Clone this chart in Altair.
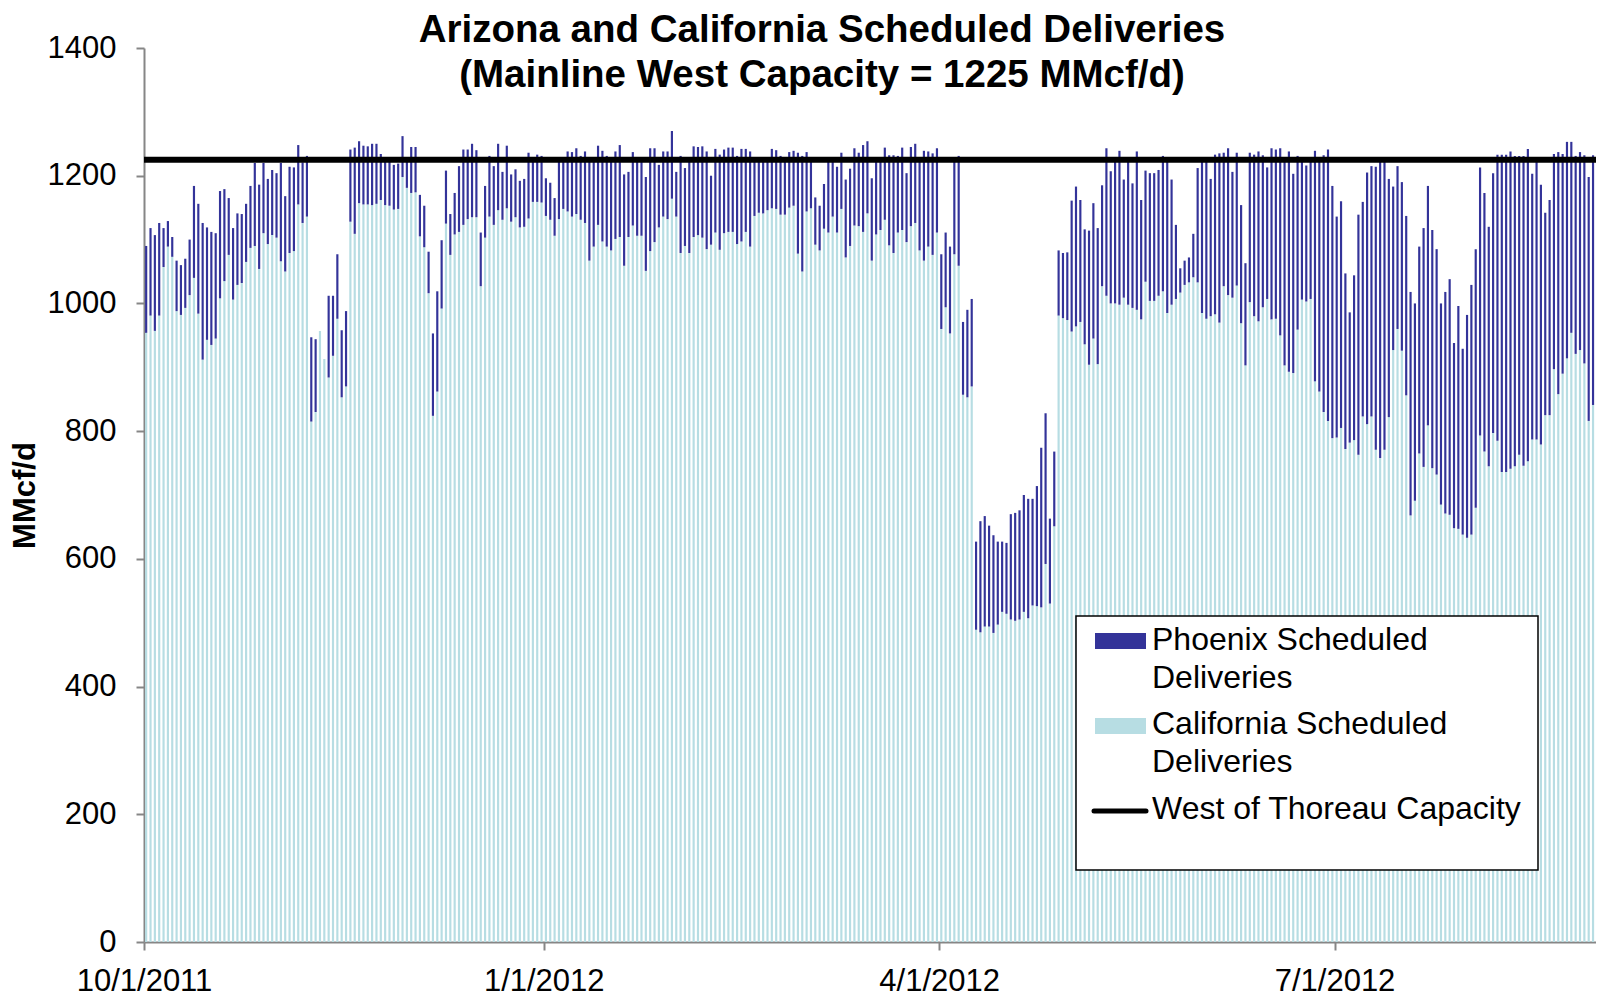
import altair as alt
import pandas as pd

# ---------------- data ----------------
start_date = "2011-10-01"

california = [
    954, 981, 957, 981, 1057, 1089, 1073, 988, 982, 993,
    1013, 1040, 984, 912, 943, 935, 945, 1008, 1035, 1076,
    1006, 1029, 1032, 1065, 1087, 1090, 1054, 1110, 1093, 1107,
    1103, 1066, 1050, 1079, 1082, 1155, 1126, 1136, 815, 830,
    957, 913, 884, 918, 976, 853, 870, 1128, 1109, 1157,
    1155, 1155, 1154, 1156, 1162, 1154, 1153, 1147, 1148, 1198,
    1181, 1173, 1174, 1105, 1088, 1016, 824, 862, 992, 1125,
    1076, 1108, 1112, 1123, 1132, 1135, 1135, 1027, 1103, 1136,
    1123, 1146, 1131, 1149, 1128, 1135, 1119, 1120, 1133, 1159,
    1159, 1158, 1137, 1131, 1106, 1132, 1148, 1144, 1136, 1140,
    1131, 1126, 1067, 1089, 1123, 1097, 1089, 1083, 1101, 1104,
    1059, 1104, 1122, 1106, 1106, 1051, 1082, 1096, 1119, 1136,
    1132, 1164, 1136, 1079, 1090, 1079, 1104, 1107, 1103, 1085,
    1092, 1111, 1084, 1110, 1112, 1112, 1093, 1097, 1112, 1089,
    1137, 1142, 1141, 1146, 1149, 1148, 1139, 1139, 1150, 1153,
    1078, 1050, 1144, 1149, 1092, 1083, 1117, 1111, 1136, 1111,
    1148, 1072, 1090, 1122, 1121, 1112, 1141, 1067, 1108, 1115,
    1131, 1091, 1079, 1111, 1115, 1096, 1121, 1126, 1083, 1067,
    1089, 1076, 1111, 960, 994, 953, 1077, 1059, 857, 853,
    870, 489, 485, 494, 494, 484, 497, 517, 514, 505,
    503, 505, 517, 507, 527, 526, 524, 592, 530, 651,
    981, 977, 974, 956, 964, 971, 936, 904, 945, 905,
    1027, 1012, 1000, 1000, 998, 1009, 998, 993, 990, 975,
    1034, 1004, 1004, 1012, 1019, 985, 998, 1007, 1017, 1029,
    1033, 1041, 1033, 985, 976, 980, 983, 970, 1027, 1013,
    1009, 1028, 969, 903, 1002, 980, 972, 994, 1007, 975,
    976, 950, 903, 893, 891, 959, 1006, 1003, 1007, 878,
    862, 830, 816, 789, 790, 805, 772, 782, 786, 763,
    823, 811, 823, 771, 758, 771, 822, 927, 960, 926,
    856, 668, 691, 765, 744, 809, 742, 732, 685, 671,
    669, 648, 647, 638, 633, 638, 680, 793, 768, 745,
    797, 785, 736, 736, 741, 745, 763, 746, 753, 787,
    787, 779, 825, 825, 897, 858, 890, 914, 954, 921,
    927, 906, 816, 841, 802, 857,
]

phoenix = [
    136, 137, 150, 145, 61, 40, 31, 79, 78, 77,
    87, 144, 172, 214, 176, 177, 165, 168, 144, 89,
    112, 112, 108, 91, 97, 130, 132, 110, 102, 102,
    101, 154, 118, 135, 131, 93, 95, 95, 132, 114,
    0, 0, 128, 94, 101, 105, 118, 113, 135, 97,
    92, 91, 96, 94, 72, 68, 69, 70, 71, 64,
    41, 72, 71, 65, 65, 65, 129, 157, 107, 83,
    64, 65, 103, 118, 109, 115, 105, 84, 81, 95,
    92, 104, 75, 98, 74, 75, 73, 75, 103, 63,
    74, 73, 59, 58, 59, 90, 74, 94, 101, 103,
    100, 112, 155, 140, 124, 142, 142, 139, 137, 144,
    143, 102, 115, 116, 116, 147, 161, 147, 98, 102,
    106, 106, 70, 152, 122, 143, 142, 138, 143, 153,
    108, 131, 149, 131, 132, 132, 138, 145, 130, 149,
    85, 80, 81, 76, 93, 92, 92, 83, 87, 86,
    158, 181, 93, 73, 74, 70, 70, 111, 86, 103,
    88, 122, 121, 121, 115, 136, 113, 129, 114, 114,
    113, 141, 153, 120, 129, 108, 124, 124, 146, 172,
    149, 159, 132, 117, 117, 136, 145, 172, 114, 137,
    137, 138, 174, 173, 158, 153, 130, 110, 111, 165,
    169, 171, 183, 187, 167, 188, 250, 236, 133, 117,
    102, 102, 106, 205, 219, 191, 180, 210, 212, 213,
    158, 231, 207, 222, 241, 185, 224, 195, 248, 187,
    174, 200, 200, 197, 212, 237, 196, 116, 38, 38,
    39, 68, 179, 237, 246, 215, 250, 265, 209, 230,
    197, 208, 185, 160, 234, 253, 266, 238, 206, 268,
    265, 293, 319, 345, 312, 272, 216, 213, 215, 361,
    360, 402, 425, 395, 346, 355, 275, 204, 258, 376,
    336, 394, 392, 443, 464, 451, 373, 256, 255, 264,
    281, 350, 309, 324, 374, 375, 373, 353, 315, 347,
    369, 290, 349, 291, 349, 391, 405, 420, 405, 375,
    407, 448, 497, 497, 497, 486, 468, 485, 489, 416,
    435, 407, 317, 337, 337, 379, 344, 339, 299, 310,
    310, 326, 382, 391, 430, 387,
]

capacity = [1225]
y_ticks = [0, 200, 400, 600, 800, 1000, 1200, 1400]
x_ticks = [(2011, 10, 1), (2012, 1, 1), (2012, 4, 1), (2012, 7, 1)]
# the visible window ends partway through 30 Aug 2012 (the original is cut at its right edge)
x_domain = [(2011, 10, 1, 0, 0), (2012, 8, 30, 4, 20)]
title_lines = ["Arizona and California Scheduled Deliveries",
               "(Mainline West Capacity = 1225 MMcf/d)"]
legend_lines = ["Phoenix Scheduled", "Deliveries",
                "California Scheduled", "Deliveries",
                "West of Thoreau Capacity"]

PHX = "#333399"
CAL = "#b7dde3"
AXC = "#868686"
FONT = "Liberation Sans"

# ---------------- table ----------------
dates = pd.date_range(start_date, periods=len(california), freq="D")
df = pd.DataFrame({"date": dates, "california": california, "phoenix": phoenix})
df["start"] = df["date"] + pd.Timedelta(hours=6)
df["end"] = df["date"] + pd.Timedelta(hours=18)
df["total"] = df["california"] + df["phoenix"]

W, H = 1452, 894

xscale = alt.Scale(domain=[alt.DateTime(year=a, month=b, date=c, hours=h, minutes=m)
                           for a, b, c, h, m in x_domain])
yscale = alt.Scale(domain=[0, 1400], nice=False)

xaxis = alt.Axis(values=[alt.DateTime(year=a, month=b, date=c) for a, b, c in x_ticks],
                 format="%-m/%-d/%Y", title=None, grid=False,
                 labelFont=FONT, labelFontSize=31, labelColor="black",
                 labelPadding=16, tickSize=8, tickWidth=2, tickColor=AXC,
                 domainColor=AXC, domainWidth=2, labelFlush=False, labelOverlap=False)
yaxis = alt.Axis(values=y_ticks, format="d", title="MMcf/d", grid=False,
                 labelFont=FONT, labelFontSize=31, labelColor="black",
                 labelPadding=20, tickSize=8, tickWidth=2, tickColor=AXC,
                 domainColor=AXC, domainWidth=2,
                 titleFont=FONT, titleFontSize=31, titleFontWeight="bold",
                 titleColor="black", titleX=-119, titleY=447, titleAngle=270,
                 titleAlign="center", titleBaseline="middle")

base = alt.Chart(df)

cal_bars = base.mark_bar(color=CAL, clip=True).encode(
    x=alt.X("start:T", scale=xscale, axis=xaxis),
    x2="end:T",
    y=alt.Y("california:Q", scale=yscale, axis=yaxis),
    y2=alt.datum(0),
)

phx_bars = base.mark_bar(color=PHX, clip=True).encode(
    x=alt.X("start:T"),
    x2="end:T",
    y=alt.Y("total:Q"),
    y2="california:Q",
)

cap_rule = alt.Chart(pd.DataFrame({"cap": capacity})).mark_rule(
    color="black", strokeWidth=6).encode(y=alt.Y("cap:Q"))

# ---------------- legend ----------------
one = pd.DataFrame({"k": [0]})
leg_box = alt.Chart(one).mark_rect(fill="white", stroke="black", strokeWidth=1.5).encode(
    x=alt.value(932), x2=alt.value(1394), y=alt.value(568), y2=alt.value(822))
sw_phx = alt.Chart(one).mark_rect(fill=PHX).encode(
    x=alt.value(951), x2=alt.value(1002), y=alt.value(585), y2=alt.value(601))
sw_cal = alt.Chart(one).mark_rect(fill=CAL).encode(
    x=alt.value(951), x2=alt.value(1002), y=alt.value(670), y2=alt.value(686))
sw_cap = alt.Chart(one).mark_rule(color="black", strokeWidth=5, strokeCap="round").encode(
    x=alt.value(950), x2=alt.value(1002), y=alt.value(763))

text_y = [592, 630, 676, 714, 761]
leg_texts = [
    alt.Chart(one).mark_text(align="left", baseline="middle", font=FONT,
                             fontSize=32, color="black").encode(
        x=alt.value(1008), y=alt.value(ty), text=alt.value(t))
    for t, ty in zip(legend_lines, text_y)
]

chart = alt.layer(cal_bars, phx_bars, cap_rule, leg_box, sw_phx, sw_cal, sw_cap,
                  *leg_texts).properties(
    width=W, height=H,
    padding={"left": 136, "top": 40, "right": 0, "bottom": 55},
    autosize=alt.AutoSizeParams(type="none"),
    title=alt.TitleParams(text=title_lines, font=FONT, fontSize=38.5, fontWeight="bold",
                          color="black", anchor="middle", dx=-48, offset=-63,
                          lineHeight=45),
    background="white",
).configure_view(stroke=None)

chart.save("out.html", embed_options={"renderer": "svg", "actions": False})
